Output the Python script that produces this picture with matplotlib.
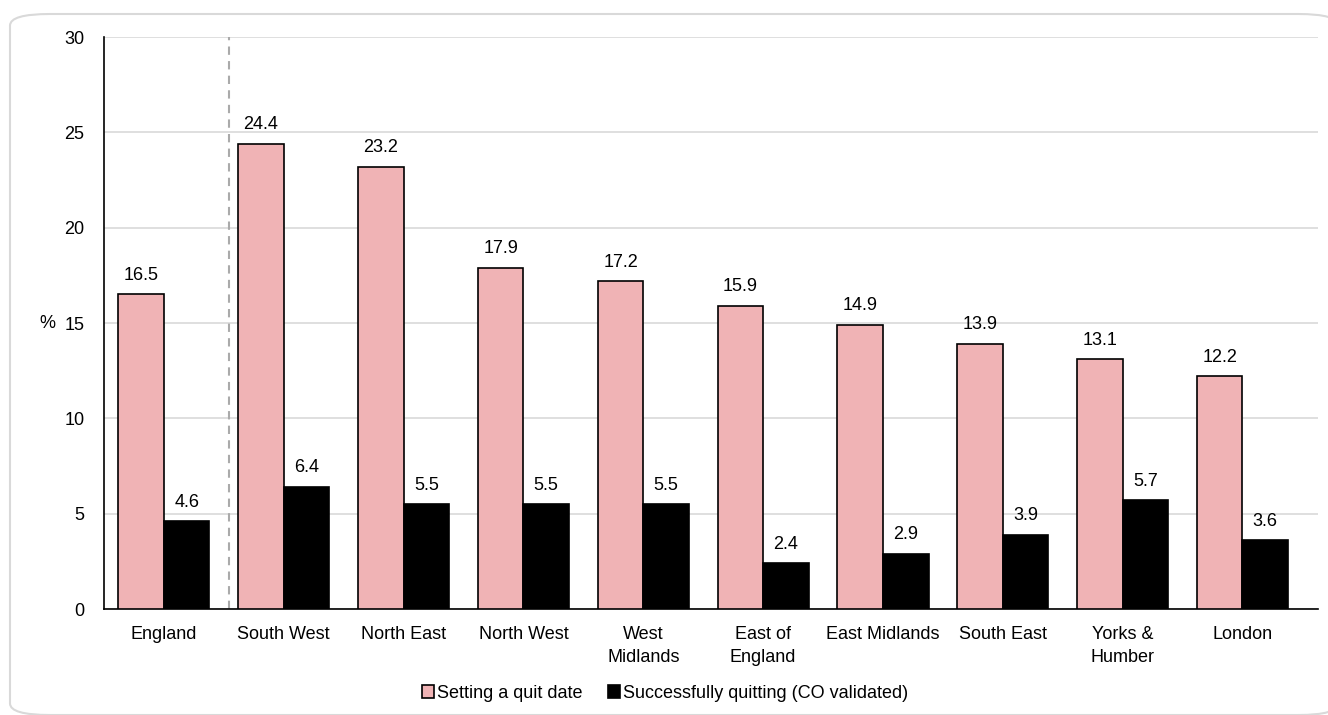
import matplotlib
matplotlib.use("Agg")
import matplotlib.pyplot as plt
from matplotlib.patches import FancyBboxPatch
import numpy as np

plt.rcParams['font.family'] = ['Liberation Sans', 'DejaVu Sans']

regions = ["England", "South West", "North East", "North West", "West\nMidlands",
           "East of\nEngland", "East Midlands", "South East", "Yorks &\nHumber", "London"]
quit_date = [16.5, 24.4, 23.2, 17.9, 17.2, 15.9, 14.9, 13.9, 13.1, 12.2]
quit_success = [4.6, 6.4, 5.5, 5.5, 5.5, 2.4, 2.9, 3.9, 5.7, 3.6]
series_names = ["Setting a quit date", "Successfully quitting (CO validated)"]
y_ticks = [0, 5, 10, 15, 20, 25, 30]

FS = 13

fig = plt.figure(figsize=(13.28, 7.15), dpi=100)
ax = fig.add_axes([104/1328, 1-609/715, (1318-104)/1328, (609-37)/715])

# rounded frame around the chart
frame = FancyBboxPatch((10/1328, 0.0), 1.0, 1-14/715,
                       boxstyle="round,pad=0,rounding_size=0.03",
                       transform=fig.transFigure, facecolor="white",
                       edgecolor="#d9d9d9", linewidth=1.5, zorder=-10,
                       mutation_aspect=715/1328)
fig.patches.append(frame)

x = np.arange(len(regions))
w = 0.38
b1 = ax.bar(x - w/2, quit_date, w, color="#F0B3B5", edgecolor="black",
            linewidth=1.2, label=series_names[0], zorder=3)
b2 = ax.bar(x + w/2, quit_success, w, color="black", edgecolor="black",
            linewidth=1.2, label=series_names[1], zorder=3)

for bars, vals in ((b1, quit_date), (b2, quit_success)):
    for rect, v in zip(bars, vals):
        ax.text(rect.get_x() + rect.get_width()/2, v + 0.55, f"{v:.1f}",
                ha="center", va="bottom", fontsize=FS)

ax.axvline(0.54, color="#aaaaaa", linestyle=(0, (4, 3)), linewidth=1.5, zorder=2)

ax.set_ylim(0, 30)
ax.set_xlim(-0.5, 9.63)
ax.set_yticks(y_ticks)
ax.set_xticks(x)
ax.set_xticklabels(regions, fontsize=FS, linespacing=1.45)
ax.tick_params(axis="y", labelsize=FS, length=0, pad=14)
ax.tick_params(axis="x", length=0, pad=12)
ax.yaxis.grid(True, color="#d9d9d9", linewidth=1.2, zorder=0)
ax.set_axisbelow(True)
for s in ["top", "right"]:
    ax.spines[s].set_visible(False)
ax.spines["left"].set_linewidth(1.2)
ax.spines["bottom"].set_linewidth(1.2)
ax.set_ylabel("%", rotation=0, fontsize=FS, labelpad=12, va="center")
ax.patch.set_alpha(0)

fig.legend(handles=[b1, b2], labels=series_names, loc="center",
           bbox_to_anchor=(665/1328, 1-693/715), ncol=2, frameon=False,
           fontsize=FS, handlelength=0.7, handleheight=0.7, handletextpad=0.15,
           columnspacing=1.4)

fig.savefig("out.png", dpi=100)
